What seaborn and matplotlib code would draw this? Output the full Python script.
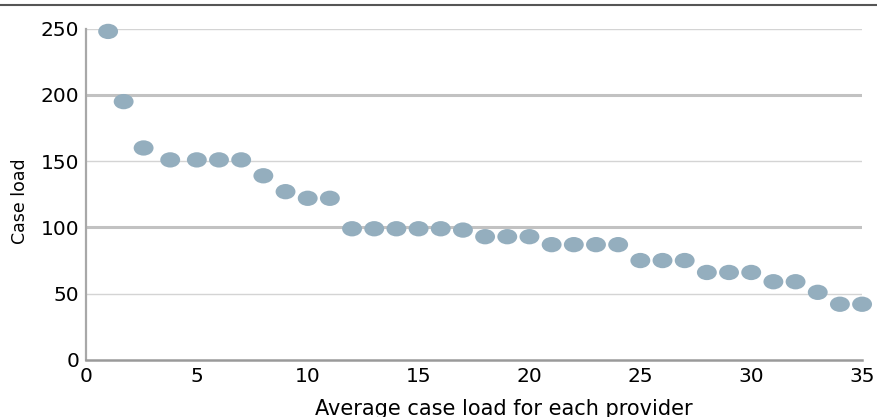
import numpy as np
import pandas as pd
import matplotlib
matplotlib.use("Agg")
import matplotlib.pyplot as plt
from matplotlib.path import Path
from matplotlib.transforms import Affine2D
import seaborn as sns

# provider rank (as placed in the source) and case load
provider = [1, 1.7, 2.6, 3.8, 5, 6, 7, 8, 9, 10, 11, 12, 13, 14, 15, 16, 17, 18,
            19, 20, 21, 22, 23, 24, 25, 26, 27, 28, 29, 30, 31, 32, 33, 34, 35]
case_load = [248, 195, 160, 151, 151, 151, 151, 139, 127, 122, 122, 99, 99, 99, 99,
             99, 98, 93, 93, 93, 87, 87, 87, 87, 75, 75, 75, 66, 66, 66, 59, 59, 51, 42, 42]
xticks = [0, 5, 10, 15, 20, 25, 30, 35]
yticks = [0, 50, 100, 150, 200, 250]

df = pd.DataFrame({"provider": provider, "case_load": case_load})

sns.set_style("white")
plt.rcParams["font.family"] = ["DejaVu Sans"]

fig = plt.figure(figsize=(8.77, 4.17), dpi=100)
ax = fig.add_axes([0.098, 0.137, 0.885, 0.794])

# flat ellipse marker like the original dots
ell = Affine2D().scale(1, 0.77).transform_path(Path.unit_circle())

# gridlines: 100 and 200 are heavier in the original
for v in yticks[1:]:
    heavy = v in (100, 200)
    ax.axhline(v, color="#c2c2c2" if heavy else "#d4d4d4",
               lw=2.2 if heavy else 1.0, zorder=0)

sns.scatterplot(data=df, x="provider", y="case_load", ax=ax, marker=ell,
                s=205, color="#94aebe", edgecolor="none", linewidth=0,
                clip_on=False, zorder=3)

ax.set_xlim(0, 35)
ax.set_ylim(0, 250)
ax.set_xticks(xticks)
ax.set_yticks(yticks)
ax.tick_params(axis="both", length=0, labelsize=14.5, colors="black")
ax.tick_params(axis="x", pad=5)
ax.tick_params(axis="y", pad=5)

ax.set_xlabel("Average case load for each provider", fontsize=15, color="black")
ax.xaxis.set_label_coords(0.539, -0.117)
ax.set_ylabel("Case load", fontsize=12.5, color="black")
ax.yaxis.set_label_coords(-0.073, 0.48)

for s in ["top", "right"]:
    ax.spines[s].set_visible(False)
ax.spines["left"].set_color("#a8a8a8")
ax.spines["left"].set_linewidth(1.6)
ax.spines["bottom"].set_color("#9a9a9a")
ax.spines["bottom"].set_linewidth(1.8)

# dark rule across the top of the figure
fig.add_artist(plt.Line2D([0, 1], [0.988, 0.988], transform=fig.transFigure,
                          color="#555555", lw=1.5))

fig.savefig("out.png", dpi=100)
